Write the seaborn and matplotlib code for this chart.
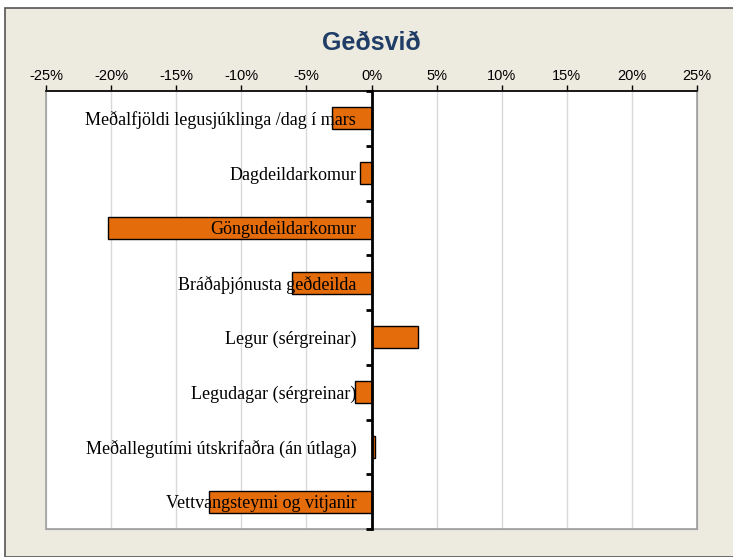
import matplotlib
matplotlib.use("Agg")
import matplotlib.pyplot as plt
import matplotlib.patches as mpatches
from matplotlib.ticker import FixedLocator, FuncFormatter
import seaborn as sns
import pandas as pd

# ---- data ----
flokkar = [
    "Meðalfjöldi legusjúklinga /dag í mars",
    "Dagdeildarkomur",
    "Göngudeildarkomur",
    "Bráðaþjónusta geðdeilda",
    "Legur (sérgreinar)",
    "Legudagar (sérgreinar)",
    "Meðallegutími útskrifaðra (án útlaga)",
    "Vettvangsteymi og vitjanir",
]
breyting = [-3.0, -0.9, -20.2, -6.1, 3.6, -1.3, 0.3, -12.5]
x_ticks = [-25, -20, -15, -10, -5, 0, 5, 10, 15, 20, 25]

df = pd.DataFrame({"flokkur": flokkar, "breyting": breyting})

sns.set_style("white")

W, H = 733, 557
fig = plt.figure(figsize=(W / 100, H / 100), dpi=100)
fig.patch.set_facecolor("white")

# beige background frame
bg = mpatches.Rectangle((5 / W, 0), 1, 1 - 8 / H, transform=fig.transFigure,
                        facecolor="#EDEAE0", edgecolor="#555555", linewidth=1.2,
                        zorder=-10)
fig.patches.append(bg)

ax = fig.add_axes([46 / W, (H - 529) / H, (697 - 46) / W, (529 - 91) / H])
ax.set_zorder(1)
ax.set_facecolor("white")

sns.barplot(data=df, x="breyting", y="flokkur", orient="h", ax=ax,
            color="#E46C0A", edgecolor="black", linewidth=1.0, width=0.4,
            saturation=1, zorder=1)

ax.set_xlim(-25, 25)
ax.set_ylim(7.5, -0.5)

# x axis on top
ax.xaxis.set_major_locator(FixedLocator(x_ticks))
ax.xaxis.set_major_formatter(FuncFormatter(lambda v, p: f"{int(v)}%"))
ax.xaxis.tick_top()
ax.tick_params(axis="x", which="major", direction="out", length=4, width=1,
               color="black", labelcolor="black", labelsize=10.5, pad=2,
               top=True, bottom=False)
for lbl in ax.get_xticklabels():
    lbl.set_fontfamily("Liberation Sans")
ax.grid(axis="x", color="#D9D9D9", linewidth=1)
ax.set_axisbelow(True)

# y axis at zero, labels drawn over bars
ax.yaxis.set_zorder(5)
ax.spines["left"].set_position(("data", 0))
ax.spines["left"].set_linewidth(2)
ax.spines["left"].set_color("black")
ax.spines["left"].set_zorder(6)
ax.spines["top"].set_color("black")
ax.spines["top"].set_linewidth(1.2)
ax.spines["right"].set_color("#A0A0A0")
ax.spines["bottom"].set_color("#A0A0A0")
ax.yaxis.set_minor_locator(FixedLocator([i + 0.5 for i in range(-1, 8)]))
ax.tick_params(axis="y", which="major", length=0, pad=11, labelcolor="black")
ax.tick_params(axis="y", which="minor", direction="out", length=4, width=2,
               color="black", left=True)
for lbl in ax.get_yticklabels():
    lbl.set_fontfamily("Liberation Serif")
    lbl.set_fontsize(13)

# left border of plot area
ax.add_patch(mpatches.Rectangle((0, 0), 1, 1, transform=ax.transAxes,
                                fill=False, edgecolor="#A0A0A0",
                                linewidth=1.2, zorder=0.8, clip_on=False))

ax.set_xlabel("")
ax.set_ylabel("")

fig.text((46 + 697) / 2 / W, 1 - 43 / H, "Geðsvið", ha="center", va="center",
         fontsize=18, fontweight="bold", color="#1F3D66",
         family="Liberation Sans")

fig.savefig("out.png", dpi=100)
